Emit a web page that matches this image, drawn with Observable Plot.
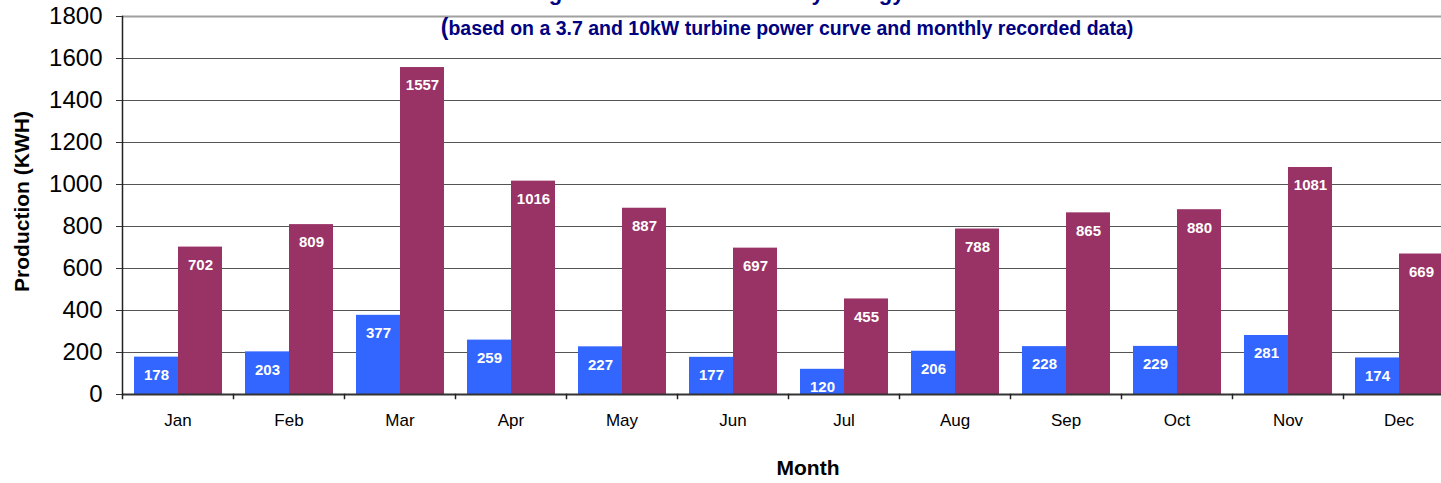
<!DOCTYPE html>
<html><head><meta charset="utf-8">
<script src="https://cdn.jsdelivr.net/npm/d3@7"></script>
<script src="https://cdn.jsdelivr.net/npm/@observablehq/plot@0.6"></script>
<style>
html,body{margin:0;padding:0;background:#fff;overflow:hidden;width:1441px;height:483px}
#wrap{position:relative;width:1441px;height:483px;font-family:"Liberation Sans",Arial,sans-serif;overflow:hidden}
#chart{position:absolute;left:0;top:0;width:1454px}
#chart svg{max-width:none !important}
.t{position:absolute;white-space:nowrap;transform:translateX(-50%);font-weight:bold}
#title{left:778px;top:-18px;font-size:22px;line-height:22px;color:#000080}
#subtitle{left:787px;top:15px;font-size:19.5px;line-height:24px;color:#000080}
#subtitle .p{font-size:23px}
#xlabel{left:808px;top:456px;font-size:21px;line-height:24px;color:#000}
</style></head>
<body>
<div id="wrap">
  <div id="chart"></div>
  <div class="t" id="title">Figure 4: Estimated Monthly Energy Production</div>
  <div class="t" id="subtitle"><span class="p">(</span>based on a 3.7 and 10kW turbine power curve and monthly recorded data)</div>
  <div class="t" id="xlabel">Month</div>
</div>
<script>
const months = ["Jan","Feb","Mar","Apr","May","Jun","Jul","Aug","Sep","Oct","Nov","Dec"];
const turbines = ["3.7kW turbine","10kW turbine"];
const prod37 = [178, 203, 377, 259, 227, 177, 120, 206, 228, 229, 281, 174];
const prod10 = [702, 809, 1557, 1016, 887, 697, 455, 788, 865, 880, 1081, 669];
const yTicks = [0, 200, 400, 600, 800, 1000, 1200, 1400, 1600, 1800];
const colors = ["#3366FF", "#993366"];

const data = months.flatMap((m, i) => [
  {month: m, turbine: turbines[0], kwh: prod37[i]},
  {month: m, turbine: turbines[1], kwh: prod10[i]}
]);

const chart = Plot.plot({
  width: 1454, height: 483,
  marginLeft: 122, marginRight: 0, marginTop: 16, marginBottom: 89,
  style: {fontFamily: "Liberation Sans, Arial, sans-serif", background: "transparent", color: "#000", maxWidth: "none"},
  fx: {domain: months, padding: 0, axis: null, label: null},
  x: {domain: turbines, paddingInner: 0, paddingOuter: 0.247, axis: null},
  y: {domain: [0, 1800], axis: null},
  color: {domain: turbines, range: colors},
  marks: [
    Plot.gridY(yTicks.filter(v => v > 0 && v < 1800), {stroke: "#555", strokeOpacity: 1}),
    Plot.ruleY([1800], {stroke: "#a0a0a0", strokeWidth: 2}),
    Plot.barY(data, {fx: "month", x: "turbine", y: "kwh", fill: "turbine"}),
    Plot.text(data, {fx: "month", x: "turbine", y: "kwh", text: d => String(d.kwh), fill: "white", fontWeight: "bold", fontSize: 15, dy: 18}),
    Plot.ruleY([0], {stroke: "#333", strokeWidth: 2}),
    Plot.frame({anchor: "left", facetAnchor: "left", stroke: "#222", strokeWidth: 1.5}),
    Plot.frame({anchor: "left", insetTop: 374, dy: 4, stroke: "#222", strokeWidth: 1.5}),
    Plot.axisY({ticks: yTicks, tickFormat: d => String(d), tickSize: 6, tickPadding: 14, fontSize: 24, label: null, stroke: "#333"}),
    Plot.text(["Production (KWH)"], {frameAnchor: "left", textAnchor: "middle", rotate: -90, dx: -100, dy: -4, fontWeight: "bold", fontSize: 21, fill: "#000", facetAnchor: "left"}),
    Plot.axisFx({anchor: "bottom", tickSize: 0, tickPadding: 19, fontSize: 17, label: null})
  ]
});
document.getElementById("chart").appendChild(chart);
</script>
</body></html>
